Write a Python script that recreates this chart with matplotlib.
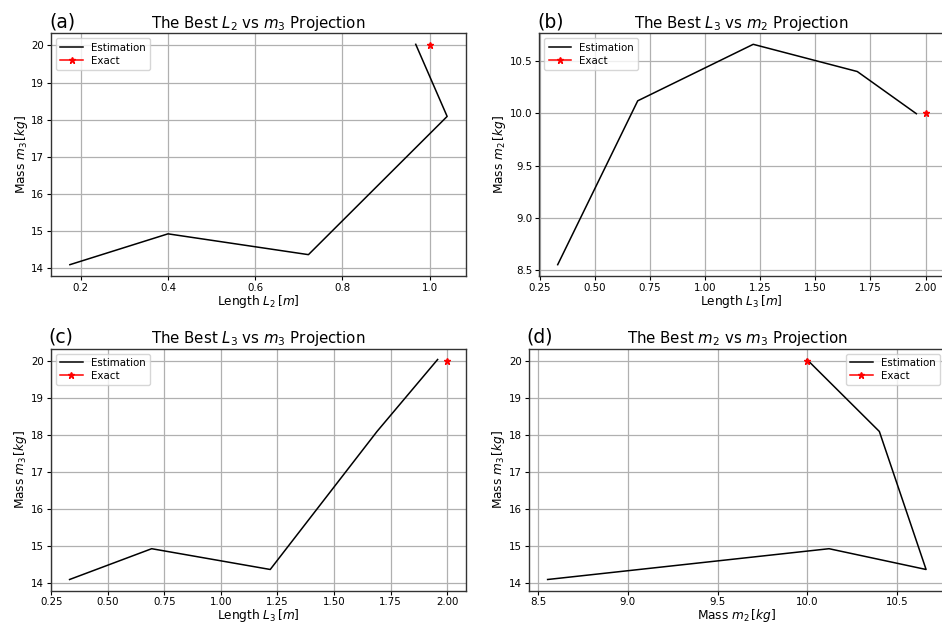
import matplotlib
matplotlib.use("Agg")
import matplotlib.pyplot as plt

# Estimated trajectory of the parameters (5 iterations)
L2_est = [0.175, 0.400, 0.722, 1.040, 0.968]
L3_est = [0.331, 0.694, 1.218, 1.690, 1.958]
m2_est = [8.554, 10.12, 10.66, 10.40, 9.997]
m3_est = [14.10, 14.93, 14.37, 18.09, 20.03]

# Exact values
L2_exact = 1.0
L3_exact = 2.0
m2_exact = 10.0
m3_exact = 20.0

W, H = 942, 625
fig = plt.figure(figsize=(W / 100, H / 100), dpi=100)

def rect(x0, y0, x1, y1):
    return [x0 / W, 1 - y1 / H, (x1 - x0) / W, (y1 - y0) / H]

panels = [
    dict(r=rect(51, 33.3, 466, 275.7), x=L2_est, y=m3_est, xe=L2_exact, ye=m3_exact,
         tag="(a)", title=r"The Best $L_2$ vs $m_3$ Projection",
         xl=r"Length $L_2\,[m]$", yl=r"Mass $m_3\,[kg]$", loc="upper left"),
    dict(r=rect(539.3, 33.3, 944, 275.7), x=L3_est, y=m2_est, xe=L3_exact, ye=m2_exact,
         tag="(b)", title=r"The Best $L_3$ vs $m_2$ Projection",
         xl=r"Length $L_3\,[m]$", yl=r"Mass $m_2\,[kg]$", loc="upper left"),
    dict(r=rect(50.7, 348.5, 466, 590.5), x=L3_est, y=m3_est, xe=L3_exact, ye=m3_exact,
         tag="(c)", title=r"The Best $L_3$ vs $m_3$ Projection",
         xl=r"Length $L_3\,[m]$", yl=r"Mass $m_3\,[kg]$", loc="upper left"),
    dict(r=rect(528.7, 348.5, 945, 590.5), x=m2_est, y=m3_est, xe=m2_exact, ye=m3_exact,
         tag="(d)", title=r"The Best $m_2$ vs $m_3$ Projection",
         xl=r"Mass $m_2\,[kg]$", yl=r"Mass $m_3\,[kg]$", loc="upper right"),
]

for p in panels:
    ax = fig.add_axes(p["r"])
    ax.plot(p["x"], p["y"], color="black", lw=1.1, label="Estimation")
    ax.plot([p["xe"]], [p["ye"]], color="red", marker="*", ms=5, lw=1.1, label="Exact")
    ax.grid(True, color="#b0b0b0", lw=0.9)
    ax.set_title(p["title"], fontsize=10.8, pad=4)
    ax.set_title(p["tag"], loc="left", fontsize=13.5, pad=4, x=-0.005)
    ax.set_xlabel(p["xl"], fontsize=8.7, labelpad=0)
    ax.set_ylabel(p["yl"], fontsize=8.7, labelpad=1)
    ax.tick_params(labelsize=7.4, length=3, pad=2)
    for s in ax.spines.values():
        s.set_linewidth(1.0)
        s.set_color("#333333")
    ax.legend(loc=p["loc"], fontsize=7.4, handlelength=2.2, borderpad=0.4, labelspacing=0.3)

fig.savefig("out.png", dpi=100)
